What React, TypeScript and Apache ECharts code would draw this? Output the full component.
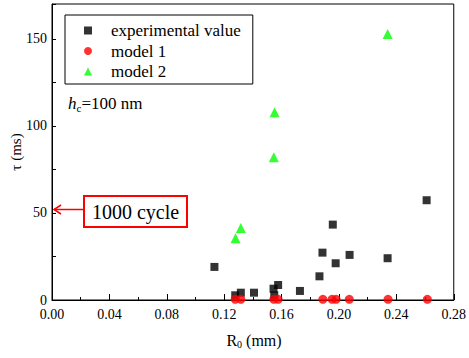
import React, { useEffect, useRef } from "react";
import * as echarts from "echarts";

// experimental value (black squares): R0 (mm), tau (ms)
const expR0 = [0.1132, 0.1277, 0.1316, 0.1408, 0.1544, 0.1549, 0.1576, 0.1728, 0.1864, 0.1885, 0.1957, 0.1977, 0.2074, 0.2339, 0.2611];
const expTau = [19.0, 2.7, 4.2, 4.2, 6.5, 2.7, 8.6, 5.2, 13.6, 27.2, 43.3, 21.1, 25.9, 24.0, 57.3];

// model 1 (red circles)
const m1R0 = [0.1277, 0.1316, 0.1546, 0.1576, 0.1888, 0.1952, 0.198, 0.2072, 0.2342, 0.2616];
const m1Tau = [0.4, 0.4, 0.4, 0.4, 0.4, 0.4, 0.4, 0.4, 0.4, 0.4];

// model 2 (green triangles)
const m2R0 = [0.1279, 0.1316, 0.1546, 0.1551, 0.2339];
const m2Tau = [35.5, 41.4, 82.0, 107.9, 152.7];

const xTicks = [0, 0.04, 0.08, 0.12, 0.16, 0.2, 0.24, 0.28];
const yLabels = [0, 50, 100, 150];

const FONT = "Liberation Serif";

const pairs = (xs: number[], ys: number[]) => xs.map((x, i) => [x, ys[i]]);

export default function App() {
  const ref = useRef<HTMLDivElement>(null);
  useEffect(() => {
    if (!ref.current) return;
    const chart = echarts.init(ref.current, null, { renderer: "svg" });
    chart.setOption({
      animation: false,
      backgroundColor: "#fff",
      textStyle: { fontFamily: FONT },
      grid: {
        left: 52,
        right: 12,
        top: 4,
        bottom: 58,
        show: true,
        borderColor: "#000",
        borderWidth: 1,
      },
      legend: {
        orient: "vertical",
        left: 65,
        top: 15,
        padding: [7, 12, 4, 19],
        itemWidth: 8,
        itemHeight: 8,
        itemGap: 3.5,
        borderColor: "#000",
        borderWidth: 1,
        formatter: (name: string) => "{sp| }{t|" + name + "}",
        textStyle: {
          fontFamily: FONT,
          fontSize: 17,
          lineHeight: 17,
          color: "#000",
          rich: {
            sp: { width: 14, fontSize: 17, lineHeight: 17 },
            t: { fontFamily: FONT, fontSize: 17, lineHeight: 17, color: "#000" },
          },
        },
        data: [
          { name: "experimental value", icon: "rect" },
          { name: "model 1", icon: "circle" },
          { name: "model 2", icon: "triangle" },
        ],
      },
      xAxis: {
        type: "value",
        min: xTicks[0],
        max: xTicks[xTicks.length - 1],
        interval: 0.04,
        axisLine: { lineStyle: { color: "#000", width: 1 } },
        axisTick: { inside: true, length: 6, lineStyle: { color: "#000" } },
        minorTick: { show: true, splitNumber: 2, length: 3, lineStyle: { color: "#000" } },
        splitLine: { show: false },
        axisLabel: {
          fontFamily: FONT,
          fontSize: 14,
          color: "#000",
          margin: 7,
          showMaxLabel: true,
          formatter: (v: number) => v.toFixed(2),
        },
      },
      yAxis: {
        type: "value",
        min: 0,
        max: 170,
        interval: 25,
        axisLine: { lineStyle: { color: "#000", width: 1 } },
        axisTick: { inside: true, length: 4, lineStyle: { color: "#000" } },
        splitLine: { show: false },
        axisLabel: {
          fontFamily: FONT,
          fontSize: 14,
          color: "#000",
          margin: 5,
          formatter: (v: number) => (yLabels.includes(v) ? String(v) : ""),
        },
      },
      series: [
        {
          name: "experimental value",
          type: "scatter",
          symbol: "rect",
          symbolSize: 8,
          itemStyle: { color: "#000" },
          data: pairs(expR0, expTau),
        },
        {
          name: "model 1",
          type: "scatter",
          symbol: "circle",
          symbolSize: 9,
          itemStyle: { color: "#ff0000" },
          data: pairs(m1R0, m1Tau),
        },
        {
          name: "model 2",
          type: "scatter",
          symbol: "triangle",
          symbolSize: 10,
          itemStyle: { color: "#00ff00" },
          data: pairs(m2R0, m2Tau),
        },
      ],
      graphic: [
        {
          type: "text",
          x: 16,
          y: 152,
          rotation: Math.PI / 2,
          style: {
            text: "τ (ms)",
            fontFamily: FONT,
            fontSize: 15,
            fill: "#000",
            align: "center",
            verticalAlign: "middle",
          },
        },
        {
          type: "text",
          x: 254,
          y: 340,
          style: {
            text: "{a|R}{b|0}{a| (mm)}",
            align: "center",
            verticalAlign: "middle",
            rich: {
              a: { fontFamily: FONT, fontSize: 16, fill: "#000" },
              b: { fontFamily: FONT, fontSize: 10, fill: "#000", padding: [9, 0, 0, 0] },
            },
          },
        },
        {
          type: "text",
          x: 68,
          y: 103,
          style: {
            text: "{i|h}{s|c}{n|=100 nm}",
            align: "left",
            verticalAlign: "middle",
            rich: {
              i: { fontFamily: FONT, fontSize: 17, fontStyle: "italic", fill: "#000" },
              s: { fontFamily: FONT, fontSize: 11, fill: "#000", padding: [9, 0, 0, 0] },
              n: { fontFamily: FONT, fontSize: 17, fill: "#000" },
            },
          },
        },
        {
          type: "rect",
          shape: { x: 84, y: 196, width: 103, height: 31 },
          style: { fill: "#fff", stroke: "#ff0000", lineWidth: 2 },
        },
        {
          type: "text",
          x: 135.5,
          y: 212,
          style: {
            text: "1000 cycle",
            fontFamily: FONT,
            fontSize: 20,
            fill: "#000",
            align: "center",
            verticalAlign: "middle",
          },
        },
        {
          type: "line",
          shape: { x1: 83, y1: 209.5, x2: 54, y2: 209.5 },
          style: { stroke: "#ff0000", lineWidth: 1.5 },
        },
        {
          type: "polyline",
          shape: { points: [[61, 205], [54, 209.5], [61, 214]] },
          style: { stroke: "#ff0000", lineWidth: 1.5, fill: "none" },
        },
      ],
    });
    return () => chart.dispose();
  }, []);
  return (
    <div
      ref={ref}
      style={{ position: "absolute", left: 0, top: 0, width: 469, height: 358 }}
    />
  );
}
